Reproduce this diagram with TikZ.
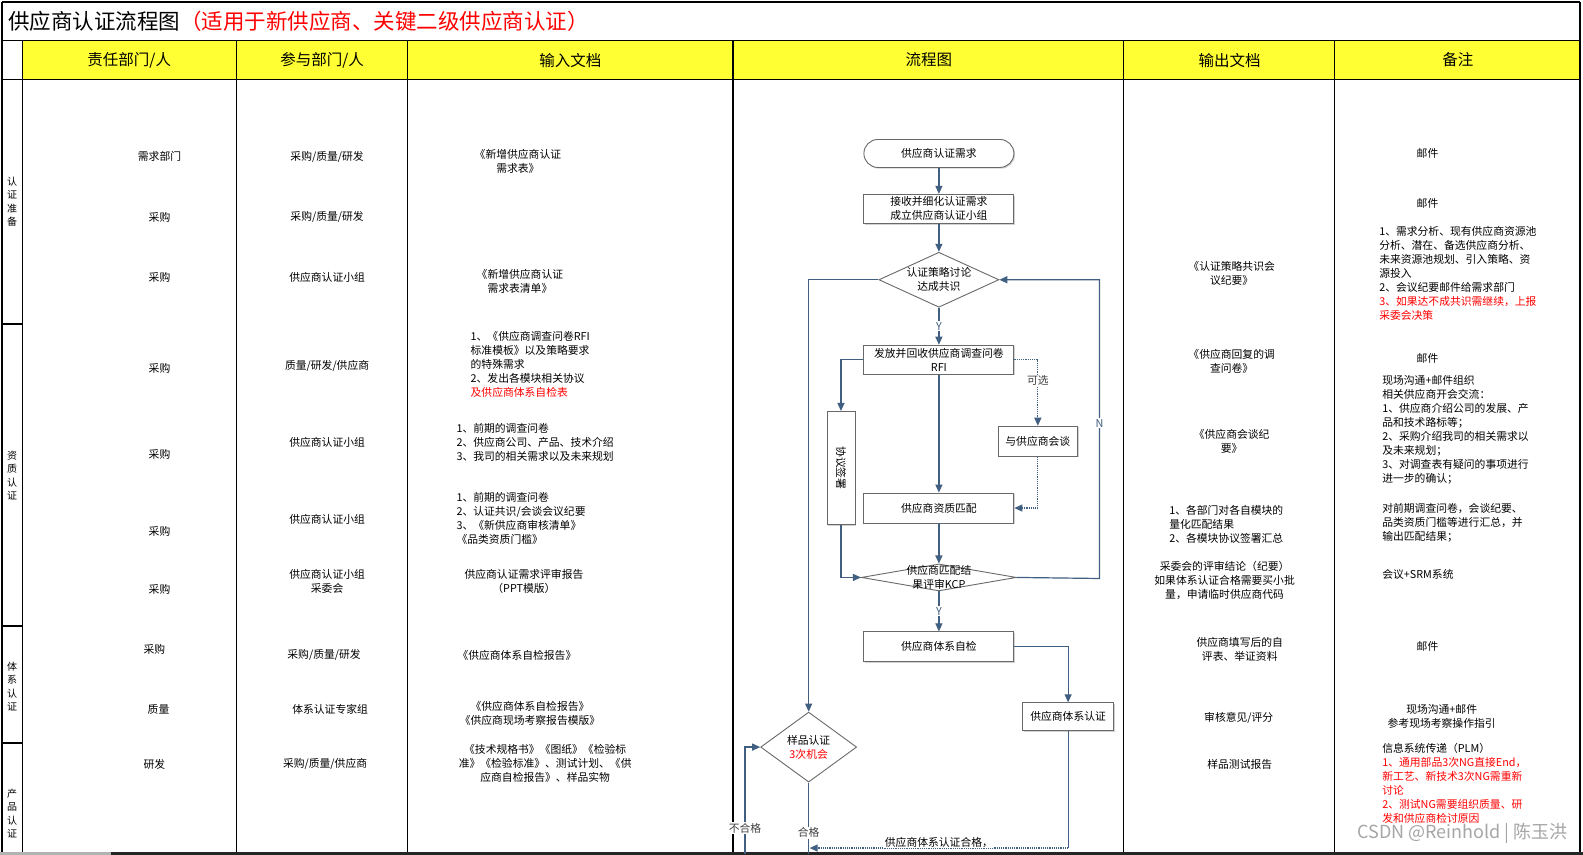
\documentclass[tikz,border=0pt]{standalone}
\usepackage{fontspec}
\setmainfont{Noto Sans CJK SC}
\usetikzlibrary{positioning, arrows.meta, shapes.geometric, shadows}
\definecolor{hdryellow}{RGB}{255,255,51}
\definecolor{flowblue}{RGB}{65,95,128}
\definecolor{boxgray}{RGB}{105,105,105}
\tikzset{
grid/.style={line width=1.2pt, black}, % rules of the table
cell/.style={font=\fontsize{10.8}{14}\selectfont, align=center, inner sep=0pt}, % text in the table cells
note/.style={cell, align=left, anchor=west}, % left aligned text blocks
phase/.style={font=\fontsize{10}{13.5}\selectfont, align=center, inner sep=0pt}, % stage names in the first column
head/.style={font=\fontsize{15.5}{18}\selectfont, inner sep=0pt}, % yellow header row
proc/.style={draw=boxgray, line width=0.9pt, fill=white, minimum width=150pt, minimum height=29pt,
  inner sep=1pt, font=\fontsize{10.8}{14}\selectfont, align=center,
  drop shadow={shadow xshift=1.2pt, shadow yshift=-1.2pt, opacity=0.35}}, % process boxes
term/.style={proc, rounded corners=14pt, minimum height=28pt}, % start box
decision/.style={diamond, draw=boxgray, line width=0.9pt, fill=white, inner sep=0pt, aspect=2.15,
  font=\fontsize{10.8}{14}\selectfont, align=center}, % decisions
flowtxt/.style={font=\fontsize{10.8}{14}\selectfont, align=center, inner sep=0pt}, % free text in the flow chart
flow/.style={draw=flowblue, line width=1.2pt, -{Triangle[length=8pt,width=7pt]}}, % connectors
flowline/.style={draw=flowblue, line width=1.2pt}, % connectors without tip
tag/.style={font=\fontsize{10.8}{13}\selectfont, text=black!75, fill=white, inner sep=1pt}, % labels on connectors
yn/.style={tag, text=flowblue}, % Y and N
}

\begin{document}
\begin{tikzpicture}[x=1.0096pt, y=-1.0096pt]
        \useasboundingbox (0,0) rectangle (1568,846);
        \fill[white] (0,0) rectangle (1568,846);
        \fill[hdryellow] (22,40) rectangle (1565,79);

        \draw[grid] (2,2) -- (1565,2);
        \draw[grid] (2,40) -- (1565,40);
        \draw[grid] (2,79) -- (1565,79);
        \draw[grid] (2,2) -- (2,846);
        \draw[grid] (1565,2) -- (1565,846);
        \foreach \x in {22,234,404,726,1113,1322}
            \draw[grid] (\x,40) -- (\x,846);
        \foreach \y in {321,620,736}
            \draw[grid] (2,\y) -- (22,\y);
        \draw[line width=3pt, black!30] (0,845) -- (110,845);
        \draw[line width=3pt, black!85] (110,845) -- (1568,845);

        \node[anchor=west, inner sep=0pt, font=\fontsize{21.5}{24}\selectfont] (title) at (8,21)
            {供应商认证流程图\textcolor{red}{（适用于新供应商、关键二级供应商认证）}};

        \node[head] (h1) at (128,59.5) {责任部门/人};
        \node[head] (h2) at (319,59.5) {参与部门/人};
        \node[head] (h3) at (565,59.5) {输入文档};
        \node[head] (h4) at (920,59.5) {流程图};
        \node[head] (h5) at (1218,59.5) {输出文档};
        \node[head] (h6) at (1444,59.5) {备注};

        \node[phase] (ph1) at (12,200) {认\\证\\准\\备};
        \node[phase] (ph2) at (12,471) {资\\质\\认\\证};
        \node[phase] (ph3) at (12,680) {体\\系\\认\\证};
        \node[phase] (ph4) at (12,806) {产\\品\\认\\证};

        \node[cell] (duty1) at (158,155) {需求部门};
        \node[cell] (duty2) at (158,215) {采购};
        \node[cell] (duty3) at (158,275) {采购};
        \node[cell] (duty4) at (158,365) {采购};
        \node[cell] (duty5) at (158,450) {采购};
        \node[cell] (duty6) at (158,526) {采购};
        \node[cell] (duty7) at (158,584) {采购};
        \node[cell] (duty8) at (153,643) {采购};
        \node[cell] (duty9) at (157,703) {质量};
        \node[cell] (duty10) at (153,757) {研发};

        \node[cell] (part1) at (324,155) {采购/质量/研发};
        \node[cell] (part2) at (324,215) {采购/质量/研发};
        \node[cell] (part3) at (324,275) {供应商认证小组};
        \node[cell] (part4) at (324,362) {质量/研发/供应商};
        \node[cell] (part5) at (324,438) {供应商认证小组};
        \node[cell] (part6) at (324,514) {供应商认证小组};
        \node[cell] (part7) at (324,576) {供应商认证小组\\采委会};
        \node[cell] (part8) at (321,649) {采购/质量/研发};
        \node[cell] (part9) at (327,703) {体系认证专家组};
        \node[cell] (part10) at (322,757) {采购/质量/供应商};

        \node[cell] (in1) at (513,160) {《新增供应商认证\\需求表》};
        \node[cell] (in3) at (515,279) {《新增供应商认证\\需求表清单》};
        \node[note] (in4) at (466,361) {1、《供应商调查问卷RFI\\标准模板》以及策略要求\\的特殊需求\\2、发出各模块相关协议\\\textcolor{red}{及供应商体系自检表}};
        \node[note] (in5) at (452,438) {1、前期的调查问卷\\2、供应商公司、产品、技术介绍\\3、我司的相关需求以及未来规划};
        \node[note] (in6) at (452,513) {1、前期的调查问卷\\2、认证共识/会谈会议纪要\\3、《新供应商审核清单》\\《品类资质门槛》};
        \node[cell] (in7) at (519,576) {供应商认证需求评审报告\\（PPT模版）};
        \node[cell] (in8) at (512,649) {《供应商体系自检报告》};
        \node[cell] (in9) at (525,707) {《供应商体系自检报告》\\《供应商现场考察报告模版》};
        \node[cell] (in10) at (540,756) {《技术规格书》《图纸》《检验标\\准》《检验标准》、测试计划、《供\\应商自检报告》、样品实物};

        \node[cell] (out3) at (1220,271) {《认证策略共识会\\议纪要》};
        \node[cell] (out4) at (1220,358) {《供应商回复的调\\查问卷》};
        \node[cell] (out5) at (1220,437) {《供应商会谈纪\\要》};
        \node[note] (out6) at (1158,519) {1、各部门对各自模块的\\量化匹配结果\\2、各模块协议签署汇总};
        \node[cell] (out7) at (1213,575) {采委会的评审结论（纪要）\\如果体系认证合格需要买小批\\量，申请临时供应商代码};
        \node[cell] (out8) at (1228,643) {供应商填写后的自\\评表、举证资料};
        \node[cell] (out9) at (1227,711) {审核意见/评分};
        \node[cell] (out10) at (1228,757) {样品测试报告};

        \node[cell] (rem1) at (1414,152) {邮件};
        \node[cell] (rem2) at (1414,201) {邮件};
        \node[note] (rem3) at (1366,271) {1、需求分析、现有供应商资源池\\分析、潜在、备选供应商分析、\\未来资源池规划、引入策略、资\\源投入\\2、会议纪要邮件给需求部门\\\textcolor{red}{3、如果达不成共识需继续，上报}\\\textcolor{red}{采委会决策}};
        \node[cell] (rem4) at (1414,355) {邮件};
        \node[note] (rem5) at (1369,426) {现场沟通+邮件组织\\相关供应商开会交流：\\1、供应商介绍公司的发展、产\\品和技术路标等；\\2、采购介绍我司的相关需求以\\及未来规划；\\3、对调查表有疑问的事项进行\\进一步的确认；};
        \node[note] (rem6) at (1369,518) {对前期调查问卷，会谈纪要、\\品类资质门槛等进行汇总，并\\输出匹配结果；};
        \node[note] (rem7) at (1369,569) {会议+SRM系统};
        \node[cell] (rem8) at (1414,640) {邮件};
        \node[cell] (rem9) at (1428,710) {现场沟通+邮件\\参考现场考察操作指引};
        \node[note] (rem10) at (1369,776) {信息系统传递（PLM）\\\textcolor{red}{1、通用部品3次NG直接End，}\\\textcolor{red}{新工艺、新技术3次NG需重新}\\\textcolor{red}{讨论}\\\textcolor{red}{2、测试NG需要组织质量、研}\\\textcolor{red}{发和供应商检讨原因}};

        \node[term] (need) at (930,152) {供应商认证需求};
        \node[proc, below=26pt of need] (recv) {接收并细化认证需求\\成立供应商认证小组};
        \node[decision, below=28pt of recv, minimum width=120pt, minimum height=55pt] (talk) {认证策略讨论\\达成共识};
        \node[proc, below=37pt of talk] (rfi) {发放并回收供应商调查问卷\\RFI};
        \node[proc, below=118pt of rfi, minimum height=30pt] (match) {供应商资质匹配};
        \node[decision, below=40pt of match, minimum width=155pt, minimum height=27pt] (kcp) {};
        \node[flowtxt] (kcptext) at (kcp) {供应商匹配结\\果评审KCP};
        \node[proc, below=40pt of kcp, minimum height=30pt] (self) {供应商体系自检};
        \node[proc, minimum width=79pt, minimum height=30pt] (meet) at (1028,437) {与供应商会谈};
        \node[proc, minimum width=28pt, minimum height=113pt] (sign) at (833,463.5) {};
        \node[flowtxt, rotate=-90] (signtext) at (sign) {协议签署};
        \node[proc, minimum width=91pt, minimum height=28pt] (sys) at (1058,710) {供应商体系认证};
        \node[decision, minimum width=96pt, minimum height=70pt] (sample) at (801,740) {样品认证\\\textcolor{red}{3次机会}};

        \coordinate (nturn) at (1089,573);
        \coordinate (sysbot) at (1058,840);
        \coordinate (passin) at (802,840);
        \coordinate (passbot) at (801,846);
        \coordinate (failbot) at (738,846);

        \draw[flow] (need) -- (recv);
        \draw[flow] (recv) -- (talk);
        \draw[flow] (talk) -- node[yn]{Y} (rfi);
        \draw[flow] (talk.west) -| (sample.north);
        \draw[flow] (rfi.west) -| (sign.north);
        \draw[flow] (rfi) -- (match);
        \draw[flow, densely dotted] (rfi.east) -| node[tag, pos=0.66]{可选} (meet.north);
        \draw[flow, densely dotted] (meet.south) |- (match.east);
        \draw[flow] (sign.south) |- (kcp.west);
        \draw[flow] (match) -- (kcp);
        \draw[flow] (kcp.east) -- (nturn) |- node[yn, pos=0.26]{N} (talk.east);
        \draw[flow] (kcp) -- node[yn]{Y} (self);
        \draw[flow] (self.east) -| (sys.north);
        \draw[flowline] (sys.south) -- (sysbot);
        \draw[flow, densely dotted] (sysbot) -- node[tag, text=black, yshift=6pt]{供应商体系认证合格，} (passin);
        \draw[flowline] (sample.south) -- node[tag, pos=0.7]{合格} (passbot);
        \draw[flow] (failbot) |- node[tag, pos=0.12]{不合格} (sample.west);

        \node[anchor=east, inner sep=0pt, text=black!35, font=\fontsize{18}{20}\selectfont] (mark) at (1553,825) {CSDN @Reinhold | 陈玉洪};
\end{tikzpicture}
\end{document}
